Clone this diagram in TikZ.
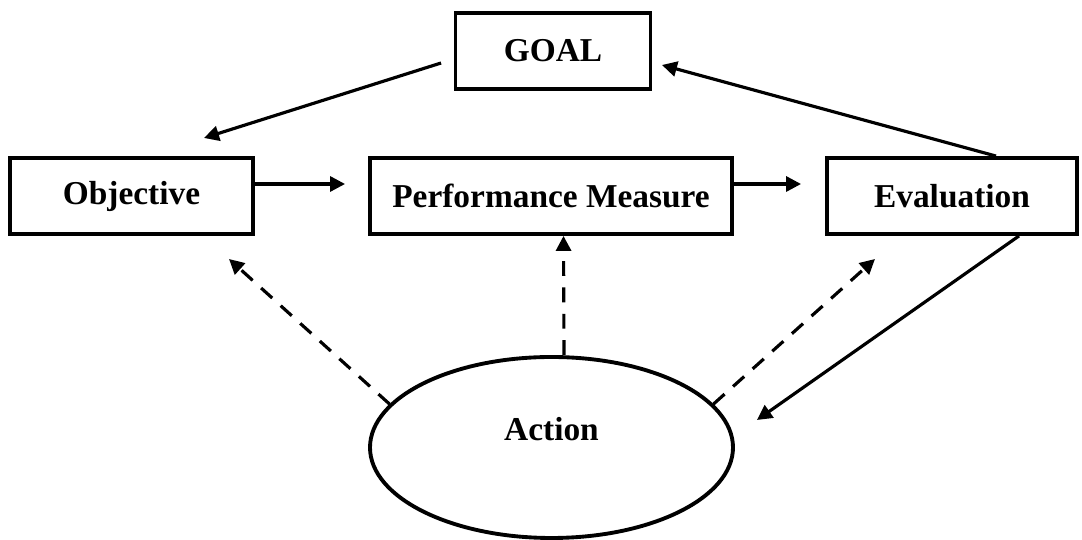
\documentclass[tikz,border=0pt]{standalone}
\usepackage{fontspec}
\setmainfont{Liberation Serif}
\usepackage{tikz}
\usetikzlibrary{positioning, arrows.meta, calc, shapes.geometric}

\begin{document}
\begin{tikzpicture}[
    >={Triangle[length=0.3cm, width=0.3cm]},
    box/.style={rectangle, draw, line width=2.2pt, minimum height=1.52cm, align=center, font=\fontsize{19}{23}\selectfont\bfseries},
    oval/.style={ellipse, draw, line width=2.2pt, minimum width=7.26cm, minimum height=3.62cm, inner sep=0pt, text height=0.5cm, text depth=0.79cm, font=\fontsize{19}{23}\selectfont\bfseries},
    arr/.style={->, line width=1.8pt},
    dasharr/.style={->, line width=1.8pt, dash pattern=on 8.5pt off 6.5pt},
]

\useasboundingbox (0, 0) rectangle (21.64, 10.8);

% ---- Boxes ----
\node[box, minimum width=3.9cm] (goal) at (11.06, 9.78) {GOAL};
\node[box, minimum width=4.86cm] (obj) at (2.63, 6.88) {Objective};
\node[box, minimum width=7.24cm] (pm) at (11.02, 6.88) {Performance Measure};
\node[box, minimum width=5.0cm] (eval) at (19.04, 6.88) {Evaluation};

% ---- Action ----
\node[oval] (action) at (11.03, 1.85) {Action};

% ---- Free arrow ends ----
\coordinate (toobj) at (4.08, 8.04);
\coordinate (toact) at (15.14, 2.4);
\coordinate (actobj) at (4.58, 5.62);
\coordinate (acteval) at (17.5, 5.62);

% ---- Arrows: main loop ----
\draw[arr] ([shift={(-0.25,-0.24)}]goal.west) -- (toobj);
\draw[arr, shorten >=0.46cm] ([yshift=0.24cm]obj.east) -- ([yshift=0.24cm]pm.west);
\draw[arr, shorten >=0.48cm] ([yshift=0.24cm]pm.east) -- ([yshift=0.24cm]eval.west);
\draw[arr] ([xshift=0.88cm]eval.north) -- ([shift={(0.19,-0.28)}]goal.east);
\draw[arr] ([xshift=1.34cm]eval.south) -- (toact);

% ---- Arrows: from action ----
\draw[dasharr] (action.165) -- (actobj);
\draw[dasharr] ([xshift=0.25cm]action.north) -- ([xshift=0.25cm]pm.south);
\draw[dasharr] (action.15) -- (acteval);

\end{tikzpicture}
\end{document}
